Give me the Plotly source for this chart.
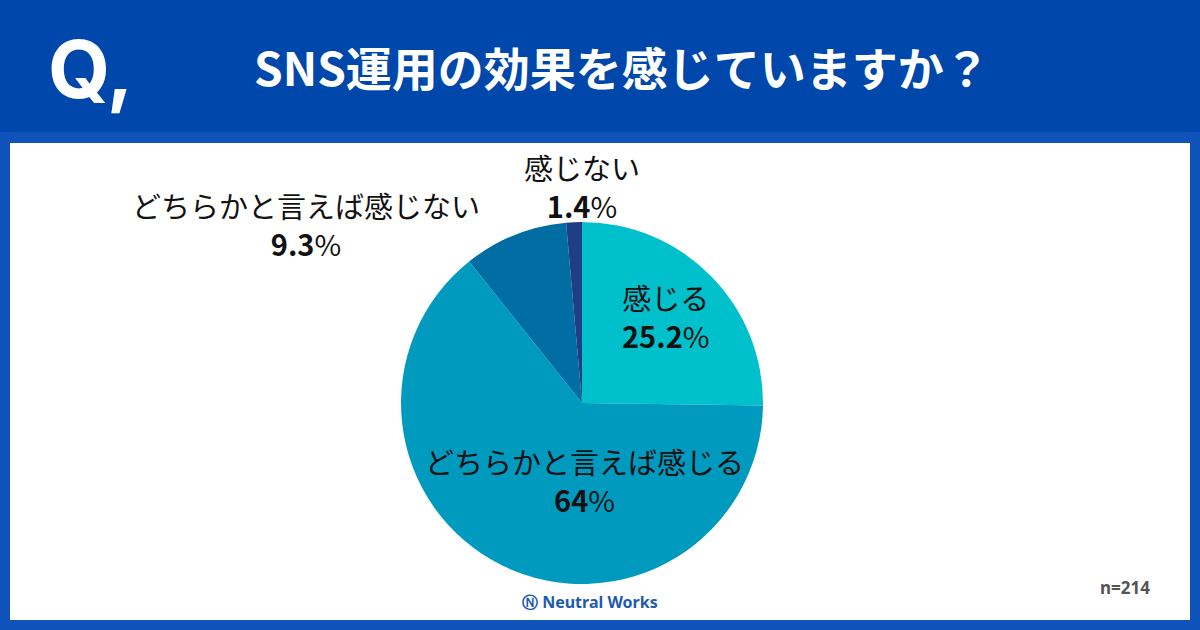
import plotly.graph_objects as go

labels = ["感じる", "どちらかと言えば感じる", "どちらかと言えば感じない", "感じない"]
values = [25.2, 64, 9.3, 1.4]
value_text = ["25.2", "64", "9.3", "1.4"]
colors = ["#00C0CC", "#009ABF", "#006EA3", "#1F3E84"]

W, H = 1200, 630
cx, cy, r = 582, 403, 181

fig = go.Figure(go.Pie(
    labels=labels, values=values, sort=False, direction="clockwise", rotation=0,
    marker=dict(colors=colors, line=dict(width=0)), textinfo="none",
    hoverinfo="label+value", showlegend=False,
    domain=dict(x=[(cx - r) / W, (cx + r) / W], y=[(H - cy - r) / H, (H - cy + r) / H]),
))

def px(x, y):
    return x / W, 1 - y / H

shapes = [
    dict(type="rect", xref="paper", yref="paper", x0=0, x1=1, y0=0, y1=1,
         fillcolor="#0F52B9", line_width=0, layer="below"),
    dict(type="rect", xref="paper", yref="paper", x0=0, x1=1, y0=1 - 132 / H, y1=1,
         fillcolor="#0047AB", line_width=0, layer="below"),
    dict(type="rect", xref="paper", yref="paper", x0=10 / W, x1=1190 / W,
         y0=1 - 620 / H, y1=1 - 143 / H, fillcolor="white", line_width=0, layer="below"),
]

font = "Noto Sans CJK JP"
ann = []
def text(x, y, s, size, color, family=font):
    xx, yy = px(x, y)
    ann.append(dict(xref="paper", yref="paper", x=xx, y=yy, showarrow=False,
                    xanchor="center", yanchor="middle", text=s, align="center",
                    font=dict(family=family, size=size, color=color)))

def label(x, y, name, val):
    text(x, y, f"{name}<br><b>{val}</b>%", 29, "#111111")

label(665, 316, labels[0], value_text[0])
label(584, 480, labels[1], value_text[1])
label(306, 224, labels[2], value_text[2])
label(582, 186, labels[3], value_text[3])

text(90, 68, "<b>Q,</b>", 80, "white", "Inter")
text(622, 66, "<b>SNS運用の効果を感じていますか？</b>", 46, "white")
text(1125, 587, "<b>n=214</b>", 17, "#555555", "Noto Sans")
text(590, 602, "<b>Ⓝ Neutral Works</b>", 16, "#1E5BAF", "Noto Sans")

fig.update_layout(width=W, height=H, margin=dict(l=0, r=0, t=0, b=0),
                  paper_bgcolor="white", shapes=shapes, annotations=ann)
fig.write_html("out.html", config={"displayModeBar": False},
               post_script="document.body.style.margin='0';")
